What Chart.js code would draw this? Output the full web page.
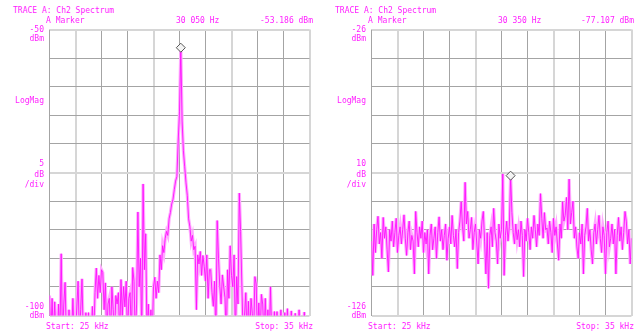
<!DOCTYPE html>
<html>
<head>
<meta charset="utf-8">
<script src="https://cdn.jsdelivr.net/npm/chart.js@4"></script>
<style>
  html,body{margin:0;padding:0;background:#fff;}
  #page{position:relative;width:643px;height:334px;overflow:hidden;}
  .t{position:absolute;font:8px "DejaVu Sans Mono",monospace;color:#ff22ff;line-height:10px;white-space:pre;}
  .r{text-align:right;}
  canvas{position:absolute;}
</style>
</head>
<body>
<div id="page">
  <canvas id="chL" width="271" height="297" style="left:44px;top:24px"></canvas>
  <canvas id="chR" width="271" height="297" style="left:366px;top:24px"></canvas>
</div>
<script>
// ===================== DATOS =====================
// barrido: 25 kHz a 35 kHz, 201 puntos
const sweepStart=25, sweepStop=35;

// panel izquierdo: -50 dBm arriba, 5 dB/div
const yTicksL=[-100,-50,5];
const traceL=[
  -96.5,-104,-97,-104,-97.6,-104,-104,-98,-104,-89.2,
  -104,-98,-94.2,-104,-104,-99,-104,-104,-97,-104,
  -104,-98.5,-94,-104,-99,-93.6,-104,-104,-99.5,-104,
  -99.5,-104,-104,-98.4,-104,-96,-91.7,-97,-93,-96,
  -92,-92.5,-99,-94.3,-104,-98,-97,-104,-95,-99,
  -104,-96.5,-98,-96,-104,-93.7,-100,-95,-98.5,-94,
  -104,-97,-96,-104,-91.6,-94,-104,-98,-81.9,-95,
  -90,-104,-77,-92,-85.7,-104,-98,-104,-99,-104,
  -95,-93.3,-97,-94,-96,-89.4,-92,-87.8,-89,-86.5,
  -85.3,-86,-83.1,-82,-80.5,-79.7,-78,-76.5,-75.7,-69.5,
  -64.4,-53.2,-66,-71.2,-74,-76.8,-79,-83.1,-84.5,-87,
  -86,-88.5,-87.9,-99,-89.4,-91,-88.8,-93,-89.5,-91.4,
  -94,-89.4,-97,-92,-92,-96,-98.4,-94,-104,-83.4,
  -90,-94.9,-98,-92.9,-95,-96.9,-104,-92,-97,-87.8,
  -93,-95,-89.4,-104,-93.2,-98,-78.6,-85.3,-95,-104,
  -100,-96,-104,-97.5,-104,-97,-99.6,-104,-93.2,-94.5,
  -104,-97.8,-104,-96.3,-98,-104,-97,-104,-99,-104,
  -95,-104,-104,-99.3,-104,-99.3,-104,-104,-99,-104,
  -104,-99.5,-104,-98.8,-104,-104,-99.2,-104,-104,-99.6,
  -104,-104,-99,-104,-104,-104,-99.4,-104,-104,-104,
  -104
];
const markerL={freq:30.05,level:-53.186};

// panel derecho: -26 dBm arriba, 10 dB/div
const yTicksR=[-126,-26,10];
const traceR=[
  -100,-112,-94,-104,-96,-91.3,-101,-97,-106,-91.7,
  -99,-95,-103,-110.8,-96,-100,-93,-102,-97,-92,
  -104,-98,-95,-101,-96,-90.8,-99,-105,-97,-93,
  -103,-98,-100,-111.5,-89.6,-97,-102,-95,-99,-93,
  -104,-97,-101,-96,-111.5,-98,-94,-103,-99,-95,
  -106,-97,-91.5,-100,-96,-103,-98,-94,-106.7,-99,
  -95,-101,-91,-98,-102,-96,-109.6,-97,-93,-86.2,
  -95,-100,-79.4,-94,-89.6,-99,-96,-91.7,-103,-97,
  -94,-101,-108,-96,-99,-93,-89.6,-100,-111.5,-97,
  -116.5,-98,-95,-102,-88.5,-97,-100,-108,-94,-99,
  -96,-76.5,-112,-98,-93,-100,-95,-77.1,-90,-97,
  -101,-94,-99.5,-96,-102,-93,-98,-112.4,-96,-100,
  -92,-97,-103,-95,-99,-91,-96,-102,-94,-98,
  -83.4,-92,-99,-90,-96,-95.4,-101,-93,-97,-104,
  -92,-98,-95,-101,-106.7,-94,-99,-86.2,-93,-91,
  -84.7,-96,-78.3,-94,-90,-86,-99,-95,-102,-106,
  -97,-101,-94,-111.5,-98,-95,-88.5,-100,-96,-103,
  -108,-97,-94,-101,-96,-91,-99,-104,-95,-98,
  -111.5,-97,-93,-102,-99,-94,-101,-96,-111.5,-98,
  -91.7,-100,-95,-103,-97,-89.6,-93,-101,-96,-108,
  -99
];
const markerR={freq:30.35,level:-77.107};

// ===================== TEXTOS =====================
const page=document.getElementById('page');
function txt(s,x,yc,right){
  const d=document.createElement('div');
  d.className='t'+(right?' r':'');
  d.textContent=s;
  d.style.top=(yc-5)+'px';
  if(right){d.style.right=(643-x)+'px';} else {d.style.left=x+'px';}
  page.appendChild(d);
}
function panelText(x0,x1,markerFreqTxt,markerLvlTxt,ticks){
  const [bot,top,div]=ticks;
  txt('TRACE A: Ch2 Spectrum',x0-33,10.5);
  txt('A Marker',x0,20.5);
  txt(markerFreqTxt,x0+130,20.5);
  txt(markerLvlTxt,x1,20.5,true);
  txt(String(top),x0-2,30,true);
  txt('dBm',x0-2,38.5,true);
  txt('LogMag',x0-2,100.5,true);
  txt(String(div),x0-2,164,true);
  txt('dB',x0-2,174.5,true);
  txt('/div',x0-2,185,true);
  txt(String(bot),x0-2,307,true);
  txt('dBm',x0-2,316,true);
  txt('Start: '+sweepStart+' kHz',x0,326.5);
  txt('Stop: '+sweepStop+' kHz',x1,326.5,true);
}
panelText(46,313,'30 050 Hz','-53.186 dBm',yTicksL);
panelText(368,634,'30 350 Hz','-77.107 dBm',yTicksR);

// ===================== GRAFICOS =====================
function toPts(vals){
  const n=vals.length-1;
  return vals.map((v,i)=>({x:sweepStart+(sweepStop-sweepStart)*i/n,y:v}));
}
function mkChart(id,vals,ticks,mk){
  const [bot,top,div]=ticks;
  const pts=toPts(vals);
  return new Chart(document.getElementById(id),{
    type:'line',
    data:{datasets:[
      {data:[{x:mk.freq,y:mk.level}],showLine:false,pointStyle:'rectRot',pointRadius:4.5,
       pointBackgroundColor:'#f4f4f4',pointBorderColor:'#555',pointBorderWidth:1},
      {data:pts,borderColor:'#ff10ff',borderWidth:0.9,pointRadius:0,tension:0},
      {data:pts,borderColor:'#ffaaff',borderWidth:3.2,pointRadius:0,tension:0}
    ]},
    options:{
      responsive:false,animation:false,
      layout:{padding:2},
      plugins:{legend:{display:false},tooltip:{enabled:false}},
      scales:{
        x:{type:'linear',min:sweepStart,max:sweepStop,
           ticks:{display:false,stepSize:1},border:{display:false},
           grid:{drawTicks:false,
             color:c=>(c.index%3===1)?'#d6d6d6':'#a4a4a4',
             lineWidth:c=>(c.index%3===1)?2:1}},
        y:{type:'linear',min:bot,max:top,
           ticks:{display:false,stepSize:div},border:{display:false},
           grid:{drawTicks:false,
             color:c=>(c.index%5===0)?'#d6d6d6':'#a4a4a4',
             lineWidth:c=>(c.index%5===0)?2:1}}
      }
    }
  });
}
mkChart('chL',traceL,yTicksL,markerL);
mkChart('chR',traceR,yTicksR,markerR);
</script>
</body>
</html>
